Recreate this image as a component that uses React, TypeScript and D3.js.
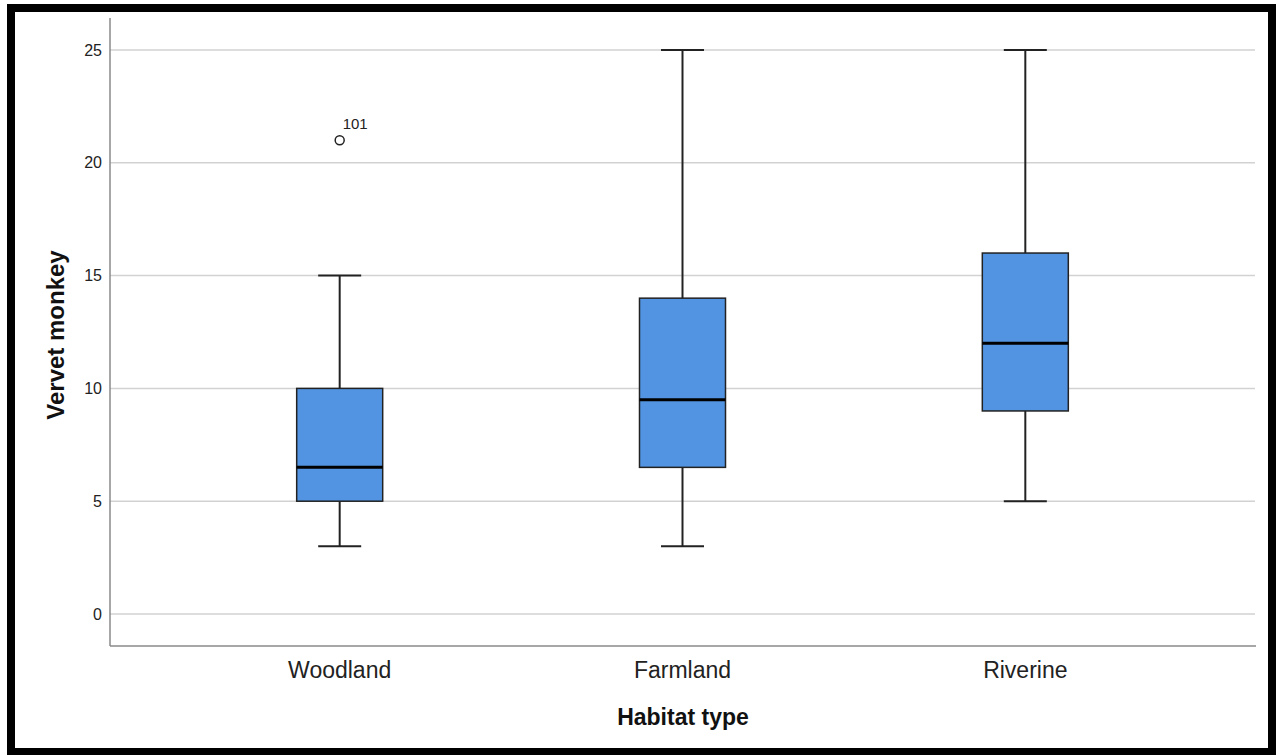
import React from "react";
import * as d3 from "d3";

// Habitat categories and five-number summaries of vervet monkey counts
const habitats = ["Woodland", "Farmland", "Riverine"];
const whiskerLow = [3, 3, 5];
const quartile1 = [5, 6.5, 9];
const medians = [6.5, 9.5, 12];
const quartile3 = [10, 14, 16];
const whiskerHigh = [15, 25, 25];
// Outliers: [habitat, value, case label]
const outlierHabitat = ["Woodland"];
const outlierValue = [21];
const outlierCase = ["101"];
const yTicks = [0, 5, 10, 15, 20, 25];

const W = 1278;
const H = 755;
const left = 110;
const right = 1256;
const top = 18;
const bottom = 646;

export default function App() {
  const x = d3.scalePoint<string>().domain(habitats).range([left, right - 1]).padding(0.67);
  const y = d3.scaleLinear().domain([0, 25]).range([614, 50]);
  const boxW = 86;
  const capW = 43;
  const font = "Arial, 'Liberation Sans', sans-serif";

  return (
    <svg width={W} height={H} style={{ position: "absolute", left: 0, top: 0, background: "#fff" }}>
      <rect x={0} y={0} width={W} height={H} fill="#fff" />
      {/* frame */}
      <rect x={11} y={8} width={1261} height={744} fill="none" stroke="#000" strokeWidth={8} />

      {/* gridlines */}
      {yTicks.map((t) => (
        <line key={"g" + t} x1={left} x2={1255} y1={y(t)} y2={y(t)} stroke="#d2d2d2" strokeWidth={1.5} />
      ))}
      {/* axes */}
      <line x1={left} x2={left} y1={top} y2={bottom} stroke="#8a8a8a" strokeWidth={1.5} />
      <line x1={left} x2={right} y1={bottom} y2={bottom} stroke="#8a8a8a" strokeWidth={1.5} />

      {yTicks.map((t) => (
        <text key={"t" + t} x={102} y={y(t) + 5.5} textAnchor="end" fontFamily={font} fontSize={16} fill="#222">
          {t}
        </text>
      ))}

      {habitats.map((h, i) => {
        const cx = x(h)!;
        return (
          <g key={h}>
            <line x1={cx} x2={cx} y1={y(quartile3[i])} y2={y(whiskerHigh[i])} stroke="#222" strokeWidth={2} />
            <line x1={cx} x2={cx} y1={y(quartile1[i])} y2={y(whiskerLow[i])} stroke="#222" strokeWidth={2} />
            <line x1={cx - capW / 2} x2={cx + capW / 2} y1={y(whiskerHigh[i])} y2={y(whiskerHigh[i])} stroke="#222" strokeWidth={2} />
            <line x1={cx - capW / 2} x2={cx + capW / 2} y1={y(whiskerLow[i])} y2={y(whiskerLow[i])} stroke="#222" strokeWidth={2} />
            <rect
              x={cx - boxW / 2}
              y={y(quartile3[i])}
              width={boxW}
              height={y(quartile1[i]) - y(quartile3[i])}
              fill="#5294e2"
              stroke="#222"
              strokeWidth={1.5}
            />
            <line x1={cx - boxW / 2} x2={cx + boxW / 2} y1={y(medians[i])} y2={y(medians[i])} stroke="#000" strokeWidth={3} />
            <text x={cx} y={678} textAnchor="middle" fontFamily={font} fontSize={23} fill="#222">
              {h}
            </text>
          </g>
        );
      })}

      {outlierValue.map((v, i) => {
        const cx = x(outlierHabitat[i])!;
        return (
          <g key={"o" + i}>
            <circle cx={cx} cy={y(v)} r={4.5} fill="#fff" stroke="#222" strokeWidth={1.5} />
            <text x={cx + 3} y={y(v) - 11} fontFamily={font} fontSize={15} fill="#222">
              {outlierCase[i]}
            </text>
          </g>
        );
      })}

      <text
        transform={`translate(64,335) rotate(-90)`}
        textAnchor="middle"
        fontFamily={font}
        fontSize={24}
        fontWeight="bold"
        fill="#111"
      >
        Vervet monkey
      </text>
      <text x={683} y={725} textAnchor="middle" fontFamily={font} fontSize={23} fontWeight="bold" fill="#111">
        Habitat type
      </text>
    </svg>
  );
}
